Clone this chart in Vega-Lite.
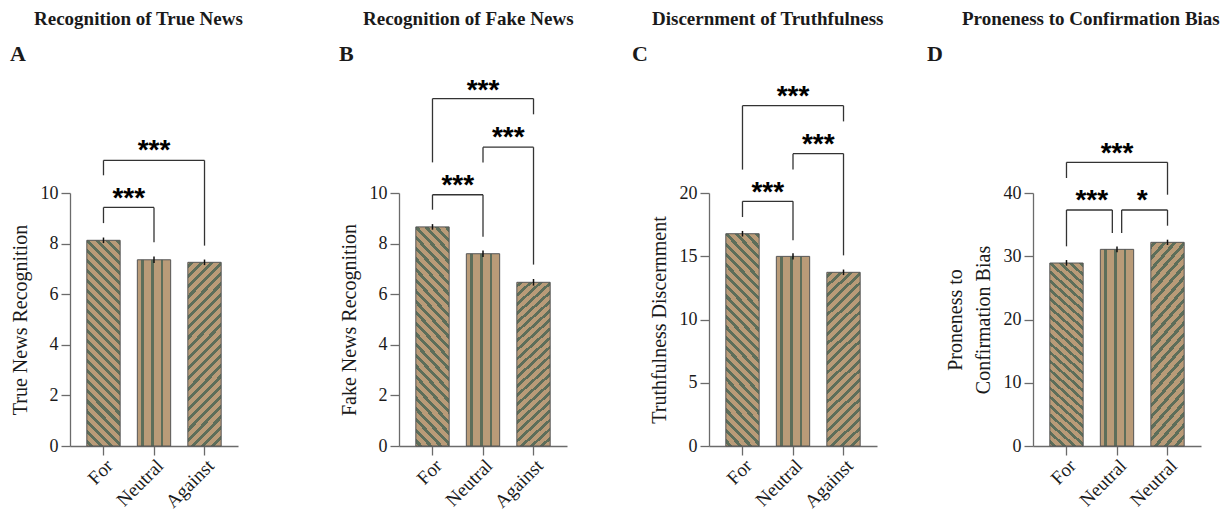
{
  "$schema": "https://vega.github.io/schema/vega-lite/v6.json",
  "padding": {"left": 10, "top": 10, "right": 0, "bottom": 0},
  "params": [
    {"name": "gradNeu", "value": {"gradient": "linear", "x1": 0, "y1": 0, "x2": 1, "y2": 0, "stops": [
      {"offset": 0.115, "color": "#b99b78"}, {"offset": 0.115, "color": "#5d6e5a"}, {"offset": 0.195, "color": "#5d6e5a"}, {"offset": 0.195, "color": "#b99b78"},
      {"offset": 0.417, "color": "#b99b78"}, {"offset": 0.417, "color": "#5d6e5a"}, {"offset": 0.497, "color": "#5d6e5a"}, {"offset": 0.497, "color": "#b99b78"},
      {"offset": 0.703, "color": "#b99b78"}, {"offset": 0.703, "color": "#5d6e5a"}, {"offset": 0.783, "color": "#5d6e5a"}, {"offset": 0.783, "color": "#b99b78"}
    ]}},
    {"name": "gradFor", "value": {"gradient": "linear", "x1": 0, "y1": 1, "x2": 0.184, "y2": -0.1326, "stops": [
      {"offset": 0.0125, "color": "#b99b78"}, {"offset": 0.0125, "color": "#5d6e5a"}, {"offset": 0.0295, "color": "#5d6e5a"}, {"offset": 0.0295, "color": "#b99b78"},
      {"offset": 0.0545, "color": "#b99b78"}, {"offset": 0.0545, "color": "#5d6e5a"}, {"offset": 0.0715, "color": "#5d6e5a"}, {"offset": 0.0715, "color": "#b99b78"},
      {"offset": 0.0965, "color": "#b99b78"}, {"offset": 0.0965, "color": "#5d6e5a"}, {"offset": 0.1135, "color": "#5d6e5a"}, {"offset": 0.1135, "color": "#b99b78"},
      {"offset": 0.1385, "color": "#b99b78"}, {"offset": 0.1385, "color": "#5d6e5a"}, {"offset": 0.1555, "color": "#5d6e5a"}, {"offset": 0.1555, "color": "#b99b78"},
      {"offset": 0.1805, "color": "#b99b78"}, {"offset": 0.1805, "color": "#5d6e5a"}, {"offset": 0.1975, "color": "#5d6e5a"}, {"offset": 0.1975, "color": "#b99b78"},
      {"offset": 0.2225, "color": "#b99b78"}, {"offset": 0.2225, "color": "#5d6e5a"}, {"offset": 0.2395, "color": "#5d6e5a"}, {"offset": 0.2395, "color": "#b99b78"},
      {"offset": 0.2645, "color": "#b99b78"}, {"offset": 0.2645, "color": "#5d6e5a"}, {"offset": 0.2815, "color": "#5d6e5a"}, {"offset": 0.2815, "color": "#b99b78"},
      {"offset": 0.3065, "color": "#b99b78"}, {"offset": 0.3065, "color": "#5d6e5a"}, {"offset": 0.3235, "color": "#5d6e5a"}, {"offset": 0.3235, "color": "#b99b78"},
      {"offset": 0.3485, "color": "#b99b78"}, {"offset": 0.3485, "color": "#5d6e5a"}, {"offset": 0.3655, "color": "#5d6e5a"}, {"offset": 0.3655, "color": "#b99b78"},
      {"offset": 0.3905, "color": "#b99b78"}, {"offset": 0.3905, "color": "#5d6e5a"}, {"offset": 0.4075, "color": "#5d6e5a"}, {"offset": 0.4075, "color": "#b99b78"},
      {"offset": 0.4325, "color": "#b99b78"}, {"offset": 0.4325, "color": "#5d6e5a"}, {"offset": 0.4495, "color": "#5d6e5a"}, {"offset": 0.4495, "color": "#b99b78"},
      {"offset": 0.4745, "color": "#b99b78"}, {"offset": 0.4745, "color": "#5d6e5a"}, {"offset": 0.4915, "color": "#5d6e5a"}, {"offset": 0.4915, "color": "#b99b78"},
      {"offset": 0.5165, "color": "#b99b78"}, {"offset": 0.5165, "color": "#5d6e5a"}, {"offset": 0.5335, "color": "#5d6e5a"}, {"offset": 0.5335, "color": "#b99b78"},
      {"offset": 0.5585, "color": "#b99b78"}, {"offset": 0.5585, "color": "#5d6e5a"}, {"offset": 0.5755, "color": "#5d6e5a"}, {"offset": 0.5755, "color": "#b99b78"},
      {"offset": 0.6005, "color": "#b99b78"}, {"offset": 0.6005, "color": "#5d6e5a"}, {"offset": 0.6175, "color": "#5d6e5a"}, {"offset": 0.6175, "color": "#b99b78"},
      {"offset": 0.6425, "color": "#b99b78"}, {"offset": 0.6425, "color": "#5d6e5a"}, {"offset": 0.6595, "color": "#5d6e5a"}, {"offset": 0.6595, "color": "#b99b78"},
      {"offset": 0.6845, "color": "#b99b78"}, {"offset": 0.6845, "color": "#5d6e5a"}, {"offset": 0.7015, "color": "#5d6e5a"}, {"offset": 0.7015, "color": "#b99b78"},
      {"offset": 0.7265, "color": "#b99b78"}, {"offset": 0.7265, "color": "#5d6e5a"}, {"offset": 0.7435, "color": "#5d6e5a"}, {"offset": 0.7435, "color": "#b99b78"},
      {"offset": 0.7685, "color": "#b99b78"}, {"offset": 0.7685, "color": "#5d6e5a"}, {"offset": 0.7855, "color": "#5d6e5a"}, {"offset": 0.7855, "color": "#b99b78"},
      {"offset": 0.8105, "color": "#b99b78"}, {"offset": 0.8105, "color": "#5d6e5a"}, {"offset": 0.8275, "color": "#5d6e5a"}, {"offset": 0.8275, "color": "#b99b78"},
      {"offset": 0.8525, "color": "#b99b78"}, {"offset": 0.8525, "color": "#5d6e5a"}, {"offset": 0.8695, "color": "#5d6e5a"}, {"offset": 0.8695, "color": "#b99b78"},
      {"offset": 0.8945, "color": "#b99b78"}, {"offset": 0.8945, "color": "#5d6e5a"}, {"offset": 0.9115, "color": "#5d6e5a"}, {"offset": 0.9115, "color": "#b99b78"},
      {"offset": 0.9365, "color": "#b99b78"}, {"offset": 0.9365, "color": "#5d6e5a"}, {"offset": 0.9535, "color": "#5d6e5a"}, {"offset": 0.9535, "color": "#b99b78"},
      {"offset": 0.9785, "color": "#b99b78"}, {"offset": 0.9785, "color": "#5d6e5a"}, {"offset": 0.9955, "color": "#5d6e5a"}, {"offset": 0.9955, "color": "#b99b78"}
    ]}},
    {"name": "gradAg", "value": {"gradient": "linear", "x1": 0, "y1": 0, "x2": 0.212, "y2": 1.1458, "stops": [
      {"offset": 0.01, "color": "#b99b78"}, {"offset": 0.01, "color": "#5d6e5a"}, {"offset": 0.029, "color": "#5d6e5a"}, {"offset": 0.029, "color": "#b99b78"},
      {"offset": 0.057, "color": "#b99b78"}, {"offset": 0.057, "color": "#5d6e5a"}, {"offset": 0.076, "color": "#5d6e5a"}, {"offset": 0.076, "color": "#b99b78"},
      {"offset": 0.104, "color": "#b99b78"}, {"offset": 0.104, "color": "#5d6e5a"}, {"offset": 0.123, "color": "#5d6e5a"}, {"offset": 0.123, "color": "#b99b78"},
      {"offset": 0.151, "color": "#b99b78"}, {"offset": 0.151, "color": "#5d6e5a"}, {"offset": 0.17, "color": "#5d6e5a"}, {"offset": 0.17, "color": "#b99b78"},
      {"offset": 0.198, "color": "#b99b78"}, {"offset": 0.198, "color": "#5d6e5a"}, {"offset": 0.217, "color": "#5d6e5a"}, {"offset": 0.217, "color": "#b99b78"},
      {"offset": 0.245, "color": "#b99b78"}, {"offset": 0.245, "color": "#5d6e5a"}, {"offset": 0.264, "color": "#5d6e5a"}, {"offset": 0.264, "color": "#b99b78"},
      {"offset": 0.292, "color": "#b99b78"}, {"offset": 0.292, "color": "#5d6e5a"}, {"offset": 0.311, "color": "#5d6e5a"}, {"offset": 0.311, "color": "#b99b78"},
      {"offset": 0.339, "color": "#b99b78"}, {"offset": 0.339, "color": "#5d6e5a"}, {"offset": 0.358, "color": "#5d6e5a"}, {"offset": 0.358, "color": "#b99b78"},
      {"offset": 0.386, "color": "#b99b78"}, {"offset": 0.386, "color": "#5d6e5a"}, {"offset": 0.405, "color": "#5d6e5a"}, {"offset": 0.405, "color": "#b99b78"},
      {"offset": 0.433, "color": "#b99b78"}, {"offset": 0.433, "color": "#5d6e5a"}, {"offset": 0.452, "color": "#5d6e5a"}, {"offset": 0.452, "color": "#b99b78"},
      {"offset": 0.48, "color": "#b99b78"}, {"offset": 0.48, "color": "#5d6e5a"}, {"offset": 0.499, "color": "#5d6e5a"}, {"offset": 0.499, "color": "#b99b78"},
      {"offset": 0.527, "color": "#b99b78"}, {"offset": 0.527, "color": "#5d6e5a"}, {"offset": 0.546, "color": "#5d6e5a"}, {"offset": 0.546, "color": "#b99b78"},
      {"offset": 0.574, "color": "#b99b78"}, {"offset": 0.574, "color": "#5d6e5a"}, {"offset": 0.593, "color": "#5d6e5a"}, {"offset": 0.593, "color": "#b99b78"},
      {"offset": 0.621, "color": "#b99b78"}, {"offset": 0.621, "color": "#5d6e5a"}, {"offset": 0.64, "color": "#5d6e5a"}, {"offset": 0.64, "color": "#b99b78"},
      {"offset": 0.668, "color": "#b99b78"}, {"offset": 0.668, "color": "#5d6e5a"}, {"offset": 0.687, "color": "#5d6e5a"}, {"offset": 0.687, "color": "#b99b78"},
      {"offset": 0.715, "color": "#b99b78"}, {"offset": 0.715, "color": "#5d6e5a"}, {"offset": 0.734, "color": "#5d6e5a"}, {"offset": 0.734, "color": "#b99b78"},
      {"offset": 0.762, "color": "#b99b78"}, {"offset": 0.762, "color": "#5d6e5a"}, {"offset": 0.781, "color": "#5d6e5a"}, {"offset": 0.781, "color": "#b99b78"},
      {"offset": 0.809, "color": "#b99b78"}, {"offset": 0.809, "color": "#5d6e5a"}, {"offset": 0.828, "color": "#5d6e5a"}, {"offset": 0.828, "color": "#b99b78"},
      {"offset": 0.856, "color": "#b99b78"}, {"offset": 0.856, "color": "#5d6e5a"}, {"offset": 0.875, "color": "#5d6e5a"}, {"offset": 0.875, "color": "#b99b78"},
      {"offset": 0.903, "color": "#b99b78"}, {"offset": 0.903, "color": "#5d6e5a"}, {"offset": 0.922, "color": "#5d6e5a"}, {"offset": 0.922, "color": "#b99b78"},
      {"offset": 0.95, "color": "#b99b78"}, {"offset": 0.95, "color": "#5d6e5a"}, {"offset": 0.969, "color": "#5d6e5a"}, {"offset": 0.969, "color": "#b99b78"}
    ]}}
  ],
  "datasets": {
    "bars": [
      {"panel": "A", "group": "For", "mean": 8.13, "lo": 8.02, "hi": 8.24},
      {"panel": "A", "group": "Neutral", "mean": 7.36, "lo": 7.23, "hi": 7.49},
      {"panel": "A", "group": "Against", "mean": 7.26, "lo": 7.15, "hi": 7.37},
      {"panel": "B", "group": "For", "mean": 8.66, "lo": 8.55, "hi": 8.77},
      {"panel": "B", "group": "Neutral", "mean": 7.6, "lo": 7.47, "hi": 7.73},
      {"panel": "B", "group": "Against", "mean": 6.47, "lo": 6.34, "hi": 6.6},
      {"panel": "C", "group": "For", "mean": 16.78, "lo": 16.56, "hi": 17.0},
      {"panel": "C", "group": "Neutral", "mean": 14.99, "lo": 14.75, "hi": 15.23},
      {"panel": "C", "group": "Against", "mean": 13.73, "lo": 13.51, "hi": 13.95},
      {"panel": "D", "group": "For", "mean": 28.93, "lo": 28.5, "hi": 29.4},
      {"panel": "D", "group": "Neutral", "mean": 31.09, "lo": 30.65, "hi": 31.55},
      {"panel": "D", "group": "Against", "mean": 32.2, "lo": 31.78, "hi": 32.62}
    ],
    "brackets": [
      {"panel": "A", "g1": "For", "g2": "Neutral", "span": 1, "top": 9.43, "l1": 8.81, "l2": 8.05, "star": 10.09, "label": "***", "nudge": "none"},
      {"panel": "A", "g1": "For", "g2": "Against", "span": 2, "top": 11.29, "l1": 10.7, "l2": 7.92, "star": 11.98, "label": "***", "nudge": "none"},
      {"panel": "B", "g1": "For", "g2": "Neutral", "span": 1, "top": 9.93, "l1": 9.34, "l2": 8.27, "star": 10.59, "label": "***", "nudge": "none"},
      {"panel": "B", "g1": "Neutral", "g2": "Against", "span": 1, "top": 11.81, "l1": 11.21, "l2": 7.17, "star": 12.48, "label": "***", "nudge": "none"},
      {"panel": "B", "g1": "For", "g2": "Against", "span": 2, "top": 13.73, "l1": 11.21, "l2": 13.11, "star": 14.35, "label": "***", "nudge": "none"},
      {"panel": "C", "g1": "For", "g2": "Neutral", "span": 1, "top": 19.34, "l1": 18.1, "l2": 16.26, "star": 20.66, "label": "***", "nudge": "none"},
      {"panel": "C", "g1": "Neutral", "g2": "Against", "span": 1, "top": 23.11, "l1": 21.85, "l2": 15.07, "star": 24.4, "label": "***", "nudge": "none"},
      {"panel": "C", "g1": "For", "g2": "Against", "span": 2, "top": 26.9, "l1": 21.85, "l2": 25.66, "star": 28.25, "label": "***", "nudge": "none"},
      {"panel": "D", "g1": "For", "g2": "Neutral", "span": 1, "top": 37.31, "l1": 31.57, "l2": 33.68, "star": 40.0, "label": "***", "nudge": "inR"},
      {"panel": "D", "g1": "Neutral", "g2": "Against", "span": 1, "top": 37.31, "l1": 33.68, "l2": 34.83, "star": 40.0, "label": "*", "nudge": "inL"},
      {"panel": "D", "g1": "For", "g2": "Against", "span": 2, "top": 44.85, "l1": 42.37, "l2": 39.73, "star": 47.38, "label": "***", "nudge": "none"}
    ]
  },
  "spacing": 20,
  "hconcat": [
    {
      "title": {"text": "Recognition of True News", "anchor": "start", "dx": 24, "fontSize": 19, "fontWeight": "bold", "offset": 14},
      "vconcat": [{
        "title": {"text": "A", "anchor": "start", "fontSize": 22, "fontWeight": "bold", "offset": 2},
        "width": 249, "height": 378,
        "layer": [
          {"data": {"name": "bars"}, "transform": [{"filter": "datum.panel === 'A'"}],
           "mark": {"type": "bar", "stroke": "#555555", "strokeWidth": 1, "fill": {"expr": "datum.group === 'For' ? gradFor : datum.group === 'Neutral' ? gradNeu : gradAg"}},
           "encoding": {
             "x": {"field": "group", "type": "nominal", "sort": null, "scale": {"domain": ["For", "Neutral", "Against"], "range": [0, 168], "paddingInner": 0.34, "paddingOuter": 0.333}, "axis": {"title": null, "labelAngle": -45}},
             "y": {"field": "mean", "type": "quantitative", "scale": {"domain": [0, 10], "range": [378, 125], "nice": false}, "axis": {"title": "True News Recognition", "values": [0, 2, 4, 6, 8, 10]}}}},
          {"data": {"name": "bars"}, "transform": [{"filter": "datum.panel === 'A'"}],
           "mark": {"type": "rule", "color": "#111111", "strokeWidth": 1.5},
           "encoding": {"x": {"field": "group", "type": "nominal"}, "y": {"field": "lo", "type": "quantitative"}, "y2": {"field": "hi"}}},
          {"data": {"name": "brackets"}, "transform": [{"filter": "datum.panel === 'A'"}],
           "mark": {"type": "rule", "color": "#333333", "strokeWidth": 1.3},
           "encoding": {"x": {"field": "g1", "type": "nominal"}, "x2": {"field": "g2"}, "y": {"field": "top", "type": "quantitative"}}},
          {"data": {"name": "brackets"}, "transform": [{"filter": "datum.panel === 'A'"}],
           "mark": {"type": "rule", "color": "#333333", "strokeWidth": 1.3},
           "encoding": {"x": {"field": "g1", "type": "nominal"}, "y": {"field": "l1", "type": "quantitative"}, "y2": {"field": "top"}}},
          {"data": {"name": "brackets"}, "transform": [{"filter": "datum.panel === 'A'"}],
           "mark": {"type": "rule", "color": "#333333", "strokeWidth": 1.3},
           "encoding": {"x": {"field": "g2", "type": "nominal"}, "y": {"field": "l2", "type": "quantitative"}, "y2": {"field": "top"}}},
          {"data": {"name": "brackets"}, "transform": [{"filter": "datum.panel === 'A'"}],
           "mark": {"type": "text", "font": "Liberation Sans", "fontWeight": "bold", "fontSize": 28, "baseline": "alphabetic", "dy": 16, "color": "#000000", "dx": {"expr": "datum.span * 25.25"}},
           "encoding": {"x": {"field": "g1", "type": "nominal"}, "y": {"field": "star", "type": "quantitative"}, "text": {"field": "label"}}}
        ]
      }]
    },
    {
      "title": {"text": "Recognition of Fake News", "anchor": "start", "dx": 24, "fontSize": 19, "fontWeight": "bold", "offset": 14},
      "vconcat": [{
        "title": {"text": "B", "anchor": "start", "fontSize": 22, "fontWeight": "bold", "offset": 2},
        "width": 213, "height": 378,
        "layer": [
          {"data": {"name": "bars"}, "transform": [{"filter": "datum.panel === 'B'"}],
           "mark": {"type": "bar", "stroke": "#555555", "strokeWidth": 1, "fill": {"expr": "datum.group === 'For' ? gradFor : datum.group === 'Neutral' ? gradNeu : gradAg"}},
           "encoding": {
             "x": {"field": "group", "type": "nominal", "sort": null, "scale": {"domain": ["For", "Neutral", "Against"], "range": [0, 168], "paddingInner": 0.34, "paddingOuter": 0.333}, "axis": {"title": null, "labelAngle": -45}},
             "y": {"field": "mean", "type": "quantitative", "scale": {"domain": [0, 10], "range": [378, 125], "nice": false}, "axis": {"title": "Fake News Recognition", "values": [0, 2, 4, 6, 8, 10]}}}},
          {"data": {"name": "bars"}, "transform": [{"filter": "datum.panel === 'B'"}],
           "mark": {"type": "rule", "color": "#111111", "strokeWidth": 1.5},
           "encoding": {"x": {"field": "group", "type": "nominal"}, "y": {"field": "lo", "type": "quantitative"}, "y2": {"field": "hi"}}},
          {"data": {"name": "brackets"}, "transform": [{"filter": "datum.panel === 'B'"}],
           "mark": {"type": "rule", "color": "#333333", "strokeWidth": 1.3},
           "encoding": {"x": {"field": "g1", "type": "nominal"}, "x2": {"field": "g2"}, "y": {"field": "top", "type": "quantitative"}}},
          {"data": {"name": "brackets"}, "transform": [{"filter": "datum.panel === 'B'"}],
           "mark": {"type": "rule", "color": "#333333", "strokeWidth": 1.3},
           "encoding": {"x": {"field": "g1", "type": "nominal"}, "y": {"field": "l1", "type": "quantitative"}, "y2": {"field": "top"}}},
          {"data": {"name": "brackets"}, "transform": [{"filter": "datum.panel === 'B'"}],
           "mark": {"type": "rule", "color": "#333333", "strokeWidth": 1.3},
           "encoding": {"x": {"field": "g2", "type": "nominal"}, "y": {"field": "l2", "type": "quantitative"}, "y2": {"field": "top"}}},
          {"data": {"name": "brackets"}, "transform": [{"filter": "datum.panel === 'B'"}],
           "mark": {"type": "text", "font": "Liberation Sans", "fontWeight": "bold", "fontSize": 28, "baseline": "alphabetic", "dy": 16, "color": "#000000", "dx": {"expr": "datum.span * 25.25"}},
           "encoding": {"x": {"field": "g1", "type": "nominal"}, "y": {"field": "star", "type": "quantitative"}, "text": {"field": "label"}}}
        ]
      }]
    },
    {
      "title": {"text": "Discernment of Truthfulness", "anchor": "start", "dx": 20, "fontSize": 19, "fontWeight": "bold", "offset": 14},
      "vconcat": [{
        "title": {"text": "C", "anchor": "start", "dx": -17, "fontSize": 22, "fontWeight": "bold", "offset": 2},
        "width": 198, "height": 378,
        "layer": [
          {"data": {"name": "bars"}, "transform": [{"filter": "datum.panel === 'C'"}],
           "mark": {"type": "bar", "stroke": "#555555", "strokeWidth": 1, "fill": {"expr": "datum.group === 'For' ? gradFor : datum.group === 'Neutral' ? gradNeu : gradAg"}},
           "encoding": {
             "x": {"field": "group", "type": "nominal", "sort": null, "scale": {"domain": ["For", "Neutral", "Against"], "range": [0, 168], "paddingInner": 0.34, "paddingOuter": 0.333}, "axis": {"title": null, "labelAngle": -45}},
             "y": {"field": "mean", "type": "quantitative", "scale": {"domain": [0, 20], "range": [378, 125], "nice": false}, "axis": {"title": "Truthfulness Discernment", "values": [0, 5, 10, 15, 20]}}}},
          {"data": {"name": "bars"}, "transform": [{"filter": "datum.panel === 'C'"}],
           "mark": {"type": "rule", "color": "#111111", "strokeWidth": 1.5},
           "encoding": {"x": {"field": "group", "type": "nominal"}, "y": {"field": "lo", "type": "quantitative"}, "y2": {"field": "hi"}}},
          {"data": {"name": "brackets"}, "transform": [{"filter": "datum.panel === 'C'"}],
           "mark": {"type": "rule", "color": "#333333", "strokeWidth": 1.3},
           "encoding": {"x": {"field": "g1", "type": "nominal"}, "x2": {"field": "g2"}, "y": {"field": "top", "type": "quantitative"}}},
          {"data": {"name": "brackets"}, "transform": [{"filter": "datum.panel === 'C'"}],
           "mark": {"type": "rule", "color": "#333333", "strokeWidth": 1.3},
           "encoding": {"x": {"field": "g1", "type": "nominal"}, "y": {"field": "l1", "type": "quantitative"}, "y2": {"field": "top"}}},
          {"data": {"name": "brackets"}, "transform": [{"filter": "datum.panel === 'C'"}],
           "mark": {"type": "rule", "color": "#333333", "strokeWidth": 1.3},
           "encoding": {"x": {"field": "g2", "type": "nominal"}, "y": {"field": "l2", "type": "quantitative"}, "y2": {"field": "top"}}},
          {"data": {"name": "brackets"}, "transform": [{"filter": "datum.panel === 'C'"}],
           "mark": {"type": "text", "font": "Liberation Sans", "fontWeight": "bold", "fontSize": 28, "baseline": "alphabetic", "dy": 16, "color": "#000000", "dx": {"expr": "datum.span * 25.25"}},
           "encoding": {"x": {"field": "g1", "type": "nominal"}, "y": {"field": "star", "type": "quantitative"}, "text": {"field": "label"}}}
        ]
      }]
    },
    {
      "title": {"text": "Proneness to Confirmation Bias", "anchor": "start", "dx": 35, "fontSize": 19, "fontWeight": "bold", "offset": 14},
      "vconcat": [{
        "title": {"text": "D", "anchor": "start", "dx": -18, "fontSize": 22, "fontWeight": "bold", "offset": 2},
        "width": 168, "height": 378,
        "layer": [
          {"data": {"name": "bars"}, "transform": [{"filter": "datum.panel === 'D'"}],
           "mark": {"type": "bar", "stroke": "#555555", "strokeWidth": 1, "fill": {"expr": "datum.group === 'For' ? gradFor : datum.group === 'Neutral' ? gradNeu : gradAg"}},
           "encoding": {
             "x": {"field": "group", "type": "nominal", "sort": null, "scale": {"domain": ["For", "Neutral", "Against"], "range": [0, 168], "paddingInner": 0.34, "paddingOuter": 0.333}, "axis": {"title": null, "labelAngle": -45, "labelExpr": "datum.value === 'Against' ? 'Neutral' : datum.value"}},
             "y": {"field": "mean", "type": "quantitative", "scale": {"domain": [0, 40], "range": [378, 125], "nice": false}, "axis": {"title": ["Proneness to", "Confirmation Bias"], "titleLineHeight": 28, "values": [0, 10, 20, 30, 40]}}}},
          {"data": {"name": "bars"}, "transform": [{"filter": "datum.panel === 'D'"}],
           "mark": {"type": "rule", "color": "#111111", "strokeWidth": 1.5},
           "encoding": {"x": {"field": "group", "type": "nominal"}, "y": {"field": "lo", "type": "quantitative"}, "y2": {"field": "hi"}}},
          {"data": {"name": "brackets"}, "transform": [{"filter": "datum.panel === 'D' && datum.nudge === 'none'"}],
           "mark": {"type": "rule", "color": "#333333", "strokeWidth": 1.3},
           "encoding": {"x": {"field": "g1", "type": "nominal"}, "x2": {"field": "g2"}, "y": {"field": "top", "type": "quantitative"}}},
          {"data": {"name": "brackets"}, "transform": [{"filter": "datum.panel === 'D' && datum.nudge === 'inR'"}],
           "mark": {"type": "rule", "color": "#333333", "strokeWidth": 1.3},
           "encoding": {"x": {"field": "g2", "type": "nominal", "bandPosition": 0.36}, "x2": {"field": "g1"}, "y": {"field": "top", "type": "quantitative"}}},
          {"data": {"name": "brackets"}, "transform": [{"filter": "datum.panel === 'D' && datum.nudge === 'inL'"}],
           "mark": {"type": "rule", "color": "#333333", "strokeWidth": 1.3},
           "encoding": {"x": {"field": "g1", "type": "nominal", "bandPosition": 0.64}, "x2": {"field": "g2"}, "y": {"field": "top", "type": "quantitative"}}},
          {"data": {"name": "brackets"}, "transform": [{"filter": "datum.panel === 'D' && datum.nudge !== 'inL'"}],
           "mark": {"type": "rule", "color": "#333333", "strokeWidth": 1.3},
           "encoding": {"x": {"field": "g1", "type": "nominal"}, "y": {"field": "l1", "type": "quantitative"}, "y2": {"field": "top"}}},
          {"data": {"name": "brackets"}, "transform": [{"filter": "datum.panel === 'D' && datum.nudge === 'inL'"}],
           "mark": {"type": "rule", "color": "#333333", "strokeWidth": 1.3},
           "encoding": {"x": {"field": "g1", "type": "nominal", "bandPosition": 0.64}, "y": {"field": "l1", "type": "quantitative"}, "y2": {"field": "top"}}},
          {"data": {"name": "brackets"}, "transform": [{"filter": "datum.panel === 'D' && datum.nudge !== 'inR'"}],
           "mark": {"type": "rule", "color": "#333333", "strokeWidth": 1.3},
           "encoding": {"x": {"field": "g2", "type": "nominal"}, "y": {"field": "l2", "type": "quantitative"}, "y2": {"field": "top"}}},
          {"data": {"name": "brackets"}, "transform": [{"filter": "datum.panel === 'D' && datum.nudge === 'inR'"}],
           "mark": {"type": "rule", "color": "#333333", "strokeWidth": 1.3},
           "encoding": {"x": {"field": "g2", "type": "nominal", "bandPosition": 0.36}, "y": {"field": "l2", "type": "quantitative"}, "y2": {"field": "top"}}},
          {"data": {"name": "brackets"}, "transform": [{"filter": "datum.panel === 'D'"}],
           "mark": {"type": "text", "font": "Liberation Sans", "fontWeight": "bold", "fontSize": 28, "baseline": "alphabetic", "dy": 16, "color": "#000000", "dx": {"expr": "datum.span * 25.25"}},
           "encoding": {"x": {"field": "g1", "type": "nominal"}, "y": {"field": "star", "type": "quantitative"}, "text": {"field": "label"}}}
        ]
      }]
    }
  ],
  "config": {
    "font": "Liberation Serif",
    "view": {"stroke": null},
    "title": {"font": "Liberation Serif", "color": "#1a1a1a"},
    "axis": {"labelFont": "Liberation Serif", "titleFont": "Liberation Serif", "labelFontSize": 18, "titleFontSize": 20, "titleFontWeight": "normal", "labelColor": "#1a1a1a", "titleColor": "#1a1a1a", "domainColor": "#6b6b6b", "tickColor": "#6b6b6b", "domainWidth": 1.3, "tickWidth": 1.3, "tickSize": 9, "labelPadding": 3, "titlePadding": 10, "grid": false},
    "axisX": {"labelFontSize": 19, "labelPadding": 1}
  }
}
